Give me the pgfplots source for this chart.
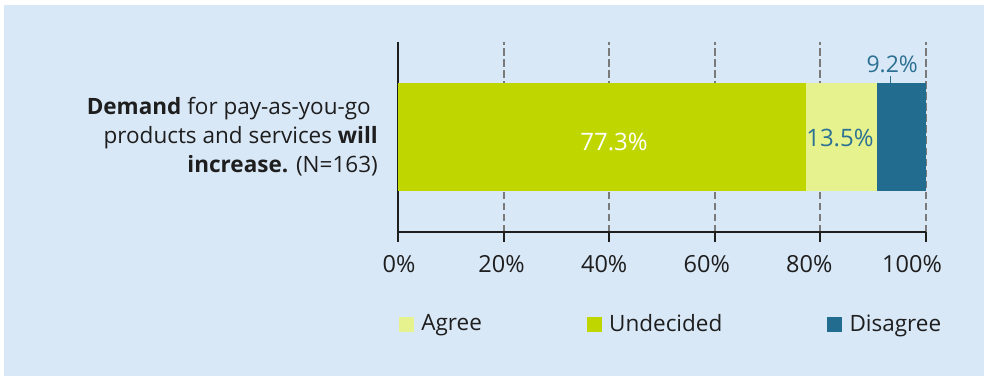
\documentclass[border=0pt]{standalone}
\usepackage{fontspec}
\setmainfont{Open Sans}
\usepackage{pgfplots}
\pgfplotsset{compat=1.18}
\definecolor{bgblue}{HTML}{D9E8F7}
\definecolor{undec}{HTML}{C0D600}
\definecolor{agree}{HTML}{E5F28E}
\definecolor{disag}{HTML}{226C8F}
\definecolor{lblue}{HTML}{2C7193}
\definecolor{txt}{HTML}{1E1E1E}
\definecolor{gridc}{HTML}{7A7A7A}
\begin{document}
\fontsize{22.5bp}{29bp}\selectfont
\begin{tikzpicture}
\fill[white] (-398bp,-150bp) rectangle (588bp,232bp);
\fill[bgblue] (-394bp,-144bp) rectangle (586bp,227bp);
\begin{axis}[
  at={(0,0)}, anchor=south west,
  scale only axis, width=528bp, height=190bp,
  xbar stacked, bar width=108bp,
  xmin=0, xmax=100, ymin=-1, ymax=1,
  ytick=\empty,
  xtick={0,20,40,60,80,100},
  xticklabels={},
  axis x line=bottom, axis y line=left,
  axis line style={-, line width=2bp, color=txt},
  tick align=outside, major tick length=10bp,
  x tick style={line width=2bp, color=txt},
  xmajorgrids, major grid style={gridc, line width=2bp, dash pattern=on 7.5bp off 3.5bp},
  clip=false,
  legend columns=3,
  legend style={at={(rel axis cs:0.0019,-0.487)}, anchor=west, draw=none, fill=none,
    inner sep=0pt, nodes={inner sep=0pt}, text=txt, font=\fontsize{22.5bp}{26bp}\selectfont,
    /tikz/every odd column/.append style={column sep=7.5bp},
    /tikz/every even column/.append style={column sep=105bp}},
  sqlegend/.style={legend image code/.code={\fill[##1] (0bp,-7.3bp) rectangle (14.7bp,7.3bp);}},
]
\addplot[fill=undec, draw=none, forget plot] coordinates {(77.3,0)};
\addplot[fill=agree, draw=none, forget plot] coordinates {(13.5,0)};
\addplot[fill=disag, draw=none, forget plot] coordinates {(9.2,0)};
\addlegendimage{sqlegend, fill=agree, draw=none}
\addlegendentry{Agree}
\addlegendimage{sqlegend, fill=undec, draw=none}
\addlegendentry{Undecided}
\addlegendimage{sqlegend, fill=disag, draw=none}
\addlegendentry{Disagree}
\coordinate (l1) at (axis cs:40.9,-0.05);
\coordinate (l2) at (axis cs:83.7,-0.01);
\coordinate (l3) at (axis cs:93.6,0.77);
\coordinate (t1) at (axis cs:93.3,0.57);
\coordinate (t2) at (axis cs:93.3,0.64);
\coordinate (cat) at (axis cs:0,0);
\coordinate (k0) at (axis cs:0.19,-1);
\coordinate (k1) at (axis cs:19.62,-1);
\coordinate (k2) at (axis cs:39.05,-1);
\coordinate (k3) at (axis cs:58.48,-1);
\coordinate (k4) at (axis cs:77.9,-1);
\coordinate (k5) at (axis cs:97.35,-1);
\end{axis}
\begin{scope}[every node/.style={anchor=base, text=txt, inner sep=0pt, yshift=-40bp, font=\fontsize{23.5bp}{28bp}\selectfont}]
\node at (k0) {0\%};
\node at (k1) {20\%};
\node at (k2) {40\%};
\node at (k3) {60\%};
\node at (k4) {80\%};
\node at (k5) {100\%};
\end{scope}
\node[text=white, font=\fontsize{24bp}{28bp}\selectfont] at (l1) {77.3\%};
\node[text=lblue, font=\fontsize{24bp}{28bp}\selectfont] at (l2) {13.5\%};
\node[text=lblue, font=\fontsize{23bp}{28bp}\selectfont] at (l3) {9.2\%};
\draw[lblue, line width=1.6bp] (t1) -- (t2);
\node[anchor=east, align=right, text=txt, inner sep=0pt, xshift=-20bp] at (cat)
  {\textbf{Demand} for pay-as-you-go\hspace*{7bp}\\ products and services \textbf{will}\hspace*{7bp}\\ \textbf{increase.} (N=163)};
\end{tikzpicture}
\end{document}
